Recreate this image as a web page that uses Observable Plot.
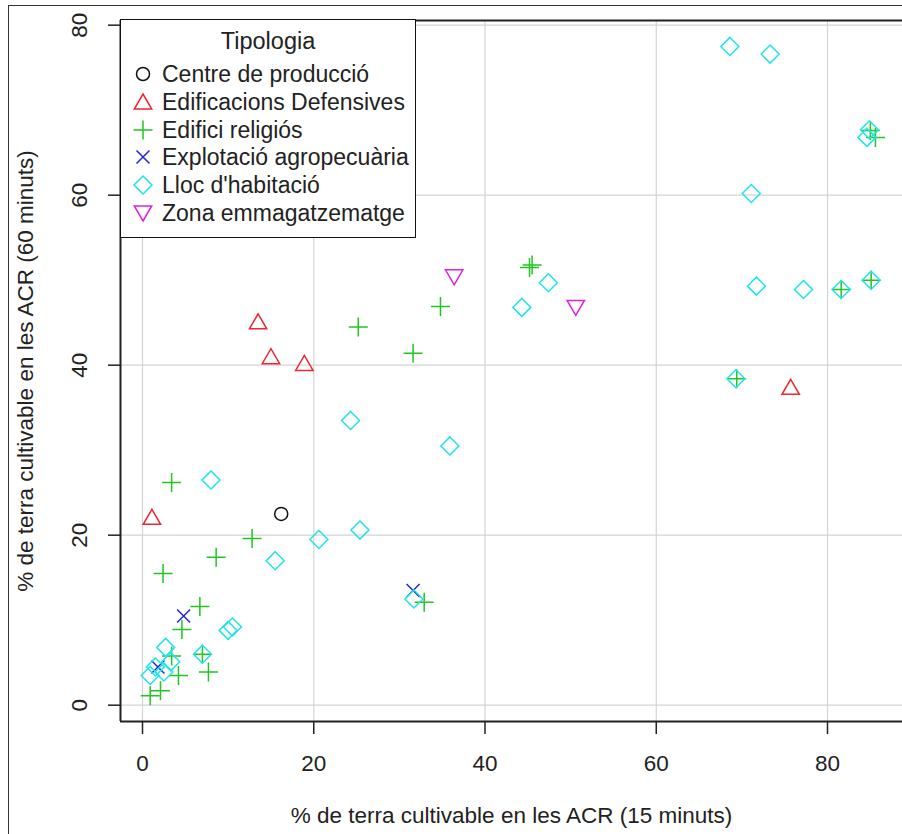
<!DOCTYPE html>
<html>
<head>
<meta charset="utf-8">
<script src="https://cdn.jsdelivr.net/npm/d3@7"></script>
<script src="https://cdn.jsdelivr.net/npm/@observablehq/plot@0.6"></script>
<style>
  html, body { margin: 0; padding: 0; background: #fff; overflow: hidden; }
  #wrap { position: relative; width: 902px; height: 834px; overflow: hidden; font-family: "Liberation Sans", Arial, sans-serif; }
  #outer { position: absolute; left: 8px; top: 5px; width: 1200px; height: 1200px; border: 1.5px solid #333; box-sizing: border-box; pointer-events: none; }
  #legend { position: absolute; left: 120px; top: 19px; width: 296px; height: 219px; border: 1.6px solid #111; background: #fff; box-sizing: border-box; }
  #legend .title { position: absolute; left: 0; width: 100%; top: 8px; text-align: center; font-size: 23.5px; color: #222; }
  #legend .item { position: absolute; left: 0; height: 28px; font-size: 23px; color: #222; white-space: nowrap; }
  #legend .item svg { position: absolute; left: 10px; top: 0; }
  #legend .item span { position: absolute; left: 41px; top: 0px; }
</style>
</head>
<body>
<div id="wrap">
  <div id="chart"></div>
  <div id="outer"></div>
  <div id="legend"></div>
</div>
<script>
// ---- data ----
const categories = ["Centre de producció", "Edificacions Defensives", "Edifici religiós",
  "Explotació agropecuària", "Lloc d'habitació", "Zona emmagatzematge"];
const colors = ["#111111", "#ee2630", "#22c522", "#2424dd", "#22e4e8", "#dd22dd"];
const legendTitle = "Tipologia";
const xLabel = "% de terra cultivable en les ACR (15 minuts)";
const yLabel = "% de terra cultivable en les ACR (60 minuts)";
const xTicks = [0, 20, 40, 60, 80];
const yTicks = [0, 20, 40, 60, 80];
const xDomain = [-2.57, 88.76];
const yDomain = [-1.92, 80.55];

// index into categories for each point
const tipus = [
  0,
  1, 1, 1, 1, 1,
  2, 2, 2, 2, 2, 2, 2, 2, 2, 2, 2, 2, 2, 2, 2, 2, 2, 2, 2, 2, 2, 2, 2,
  3, 3, 3,
  4, 4, 4, 4, 4, 4, 4, 4, 4, 4, 4, 4, 4, 4, 4, 4, 4, 4, 4, 4, 4, 4, 4, 4, 4, 4, 4,
  5, 5
];
const acr15 = [
  16.2,
  13.5, 15.0, 18.9, 1.1, 75.7,
  3.4, 2.4, 8.6, 12.8, 6.7, 4.6, 3.4, 7.0, 4.2, 7.7, 0.9, 2.1, 32.9, 25.2, 31.6, 34.8, 45.2, 45.5, 69.4, 81.6, 85.1, 85.0, 85.6,
  4.8, 1.8, 31.6,
  8.0, 20.6, 25.4, 15.5, 31.7, 10.0, 10.5, 7.0, 2.7, 3.3, 2.5, 0.9, 1.5, 24.3, 35.9, 44.3, 47.4, 68.6, 73.3, 71.1, 71.7, 77.2, 81.6, 85.1, 84.9, 84.6, 69.3,
  36.4, 50.6
];
const acr60 = [
  22.5,
  45.1, 41.0, 40.2, 22.1, 37.4,
  26.2, 15.5, 17.4, 19.6, 11.6, 8.9, 5.8, 6.0, 3.5, 3.9, 1.1, 1.7, 12.1, 44.5, 41.4, 46.9, 51.5, 51.8, 38.4, 48.9, 50.0, 67.6, 66.8,
  10.5, 4.5, 13.5,
  26.5, 19.5, 20.6, 17.0, 12.5, 8.8, 9.2, 6.0, 6.8, 5.1, 3.9, 3.5, 4.5, 33.5, 30.5, 46.8, 49.7, 77.5, 76.6, 60.2, 49.3, 48.9, 48.9, 50.0, 67.7, 66.8, 38.4,
  50.4, 46.8
];

// ---- R-like symbols (pch 1..6) ----
const shapes = [
  {draw(c) { c.moveTo(6.5, 0); c.arc(0, 0, 6.5, 0, 2 * Math.PI); }},
  {draw(c) { c.moveTo(0, -8); c.lineTo(8.7, 7); c.lineTo(-8.7, 7); c.closePath(); }},
  {draw(c) { c.moveTo(-9.5, 0); c.lineTo(9.5, 0); c.moveTo(0, -9.5); c.lineTo(0, 9.5); }},
  {draw(c) { c.moveTo(-6.5, -6.5); c.lineTo(6.5, 6.5); c.moveTo(-6.5, 6.5); c.lineTo(6.5, -6.5); }},
  {draw(c) { c.moveTo(0, -9); c.lineTo(9, 0); c.lineTo(0, 9); c.lineTo(-9, 0); c.closePath(); }},
  {draw(c) { c.moveTo(0, 8); c.lineTo(8.7, -7); c.lineTo(-8.7, -7); c.closePath(); }}
];

const data = tipus.map((t, i) => ({tipo: categories[t], x: acr15[i], y: acr60[i]}));

const chart = Plot.plot({
  width: 902,
  height: 834,
  marginLeft: 120,
  marginRight: 0,
  marginTop: 20,
  marginBottom: 113,
  style: {fontFamily: "Liberation Sans, Arial, sans-serif", fontSize: "22px", color: "#222", background: "#fff", overflow: "hidden"},
  x: {domain: xDomain, axis: null},
  y: {domain: yDomain, axis: null},
  symbol: {domain: categories, range: shapes},
  color: {domain: categories, range: colors},
  marks: [
    Plot.ruleX(xTicks, {stroke: "#d4d4d4", strokeWidth: 1.2}),
    Plot.ruleY(yTicks, {stroke: "#d4d4d4", strokeWidth: 1.2}),
    Plot.dot(data, {x: "x", y: "y", symbol: "tipo", stroke: "tipo", fill: "none", strokeWidth: 1.5, r: 5}),
    Plot.ruleX([xDomain[0]], {stroke: "#222", strokeWidth: 2}),
    Plot.ruleY([yDomain[0], yDomain[1]], {stroke: "#222", strokeWidth: 2}),
    Plot.axisX(xTicks, {tickSize: 13, tickPadding: 21, label: null, stroke: "#222", strokeWidth: 1.5, fontSize: 22.5}),
    Plot.axisY(yTicks, {tickSize: 12, tickRotate: -90, tickPadding: 22, label: null, stroke: "#222", strokeWidth: 1.5, fontSize: 22.5}),
    Plot.text([xLabel], {frameAnchor: "bottom", dy: 94, text: d => d, fontSize: 22.5, fill: "#222", lineAnchor: "middle", textAnchor: "middle"}),
    Plot.text([yLabel], {frameAnchor: "left", dx: -95, rotate: -90, text: d => d, fontSize: 22.5, fill: "#222", lineAnchor: "middle", textAnchor: "middle"})
  ]
});
document.getElementById("chart").appendChild(chart);

// ---- legend (HTML box like R's legend) ----
const legend = document.getElementById("legend");
const t = document.createElement("div");
t.className = "title";
t.textContent = legendTitle;
legend.appendChild(t);
categories.forEach((cat, i) => {
  const item = document.createElement("div");
  item.className = "item";
  item.style.top = (41 + i * 27.8) + "px";
  const svg = d3.create("svg").attr("width", 24).attr("height", 26);
  svg.append("path")
    .attr("transform", "translate(12,13)")
    .attr("d", d3.symbol(shapes[i])())
    .attr("fill", "none")
    .attr("stroke", colors[i])
    .attr("stroke-width", 1.5);
  item.appendChild(svg.node());
  const s = document.createElement("span");
  s.textContent = cat;
  item.appendChild(s);
  legend.appendChild(item);
});
</script>
</body>
</html>
